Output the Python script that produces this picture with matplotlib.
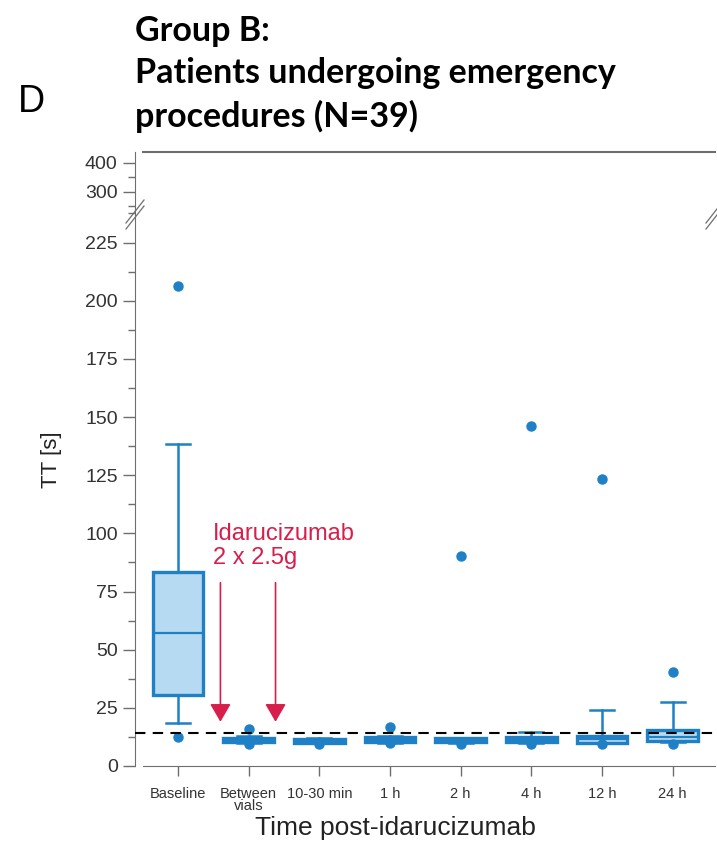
import numpy as np
import matplotlib
matplotlib.use("Agg")
from matplotlib import pyplot as plt
from matplotlib.ticker import MultipleLocator

plt.rcParams['font.family'] = ['Liberation Sans', 'DejaVu Sans']

# thrombin time (s) per time point
labels = ["Baseline", "Between\nvials", "10-30 min", "1 h", "2 h", "4 h", "12 h", "24 h"]
whislo = [18.6, 10.0, 9.8, 10.0, 9.9, 10.0, 9.8, 10.3]
q1 = [30.5, 10.3, 10.0, 10.3, 10.2, 10.3, 10.0, 10.6]
med = [57.3, 11.2, 10.9, 11.2, 11.0, 11.2, 11.4, 12.6]
q3 = [83.5, 12.2, 11.8, 12.3, 12.0, 12.4, 12.8, 15.5]
whishi = [138.3, 12.8, 12.0, 13.0, 12.2, 14.8, 24.0, 27.4]
fliers = [[206.4, 12.6], [15.9, 9.6], [9.3], [16.9, 9.8],
          [90.3, 9.4], [146.2, 9.4], [123.4, 9.4], [40.4, 9.6]]
ref_line = 14.3
arrow_x = [0.6, 1.38]
arrow_top, arrow_tip = 78.8, 19.0

blue = '#1f80c6'
fill = '#b5daf1'
red = '#d81e4a'
grey = '#6e6e6e'

W, H = 717, 843
fig = plt.figure(figsize=(W/100, H/100), dpi=100)
ax = fig.add_axes([135/W, 1-766/H, (715-135)/W, (766-210)/H])
axu = fig.add_axes([135/W, 1-210/H, (715-135)/W, (210-152)/H])

stats = []
for i in range(len(labels)):
    stats.append(dict(whislo=whislo[i], q1=q1[i], med=med[i], q3=q3[i],
                      whishi=whishi[i], fliers=fliers[i], label=labels[i]))

pos = np.arange(len(labels))
ax.bxp(stats, positions=pos, widths=0.72, patch_artist=True,
       boxprops=dict(facecolor=fill, edgecolor=blue, linewidth=2.4),
       medianprops=dict(color=blue, linewidth=1.6),
       whiskerprops=dict(color=blue, linewidth=1.8),
       capprops=dict(color=blue, linewidth=1.8), capwidths=0.34,
       flierprops=dict(marker='o', markerfacecolor=blue, markeredgecolor=blue,
                       markersize=6.5))

ax.axhline(ref_line, color='black', linewidth=1.5, linestyle=(0, (5, 3.5)), zorder=5)

for x in arrow_x:
    ax.annotate('', xy=(x, arrow_tip), xytext=(x, arrow_top),
                arrowprops=dict(arrowstyle='-|>,head_length=0.55,head_width=0.32',
                                color=red, lw=1.2, shrinkA=0, shrinkB=0,
                                mutation_scale=20))
ax.text(0.49, 104.5, "Idarucizumab\n2 x 2.5g", color=red, fontsize=17,
        va='top', ha='left', linespacing=1.15)

# lower axis
ax.set_xlim(-0.609, 7.60)
ax.set_ylim(0, 239)
ax.set_xticks(pos)
ax.set_xticklabels(labels, fontsize=10.5, color='#333333', linespacing=0.85)
ax.yaxis.set_major_locator(MultipleLocator(25))
ax.yaxis.set_minor_locator(MultipleLocator(12.5))
ax.tick_params(axis='y', which='major', length=8.5, width=1, color=grey,
               labelsize=14, labelcolor='#333333', pad=4)
ax.tick_params(axis='y', which='minor', length=5, width=1, color=grey)
ax.tick_params(axis='x', length=7, width=1, color=grey, pad=8)
for s in ['top', 'right']:
    ax.spines[s].set_visible(False)
ax.spines['left'].set_color(grey)
ax.spines['bottom'].set_color(grey)
ax.spines['bottom'].set_bounds(-0.5, 7.6)

# upper axis (broken part)
axu.set_xlim(-0.609, 7.60)
axu.set_ylim(237, 437)
axu.set_xticks([])
axu.set_yticks([300, 400])
axu.yaxis.set_minor_locator(MultipleLocator(50))
axu.tick_params(axis='y', which='major', length=8.5, width=1, color=grey,
                labelsize=14, labelcolor='#333333', pad=4)
axu.tick_params(axis='y', which='minor', length=5, width=1, color=grey)
for s in ['bottom', 'right']:
    axu.spines[s].set_visible(False)
axu.spines['left'].set_color(grey)
axu.spines['top'].set_color(grey)
axu.spines['top'].set_linewidth(1.5)
axu.spines['top'].set_bounds(-0.5, 7.6)
axu.patch.set_alpha(0)

# break marks
for xb in [135, 715]:
    for dy in [-3, 3]:
        fig.add_artist(plt.Line2D([(xb-9)/W, (xb+9)/W],
                                  [1-(226+dy)/H, 1-(203+dy)/H],
                                  color=grey, lw=0.9))

fig.text(52/W, 1-460/H, "TT [s]", rotation=90, fontsize=16, va='center',
         ha='center', color='#222222')
fig.text(395/W, 1-835/H, "Time post-idarucizumab", fontsize=19, ha='center',
         va='baseline', color='#222222')
fig.text(135/W, 1-15/H, "Group B:\nPatients undergoing emergency\nprocedures (N=39)",
         fontsize=24.5, fontweight='bold', family=['Lato', 'DejaVu Sans'],
         va='top', ha='left', linespacing=1.4)
fig.text(18/W, 1-112/H, "D", fontsize=27, va='baseline', ha='left')

fig.savefig('out.png', dpi=100)
